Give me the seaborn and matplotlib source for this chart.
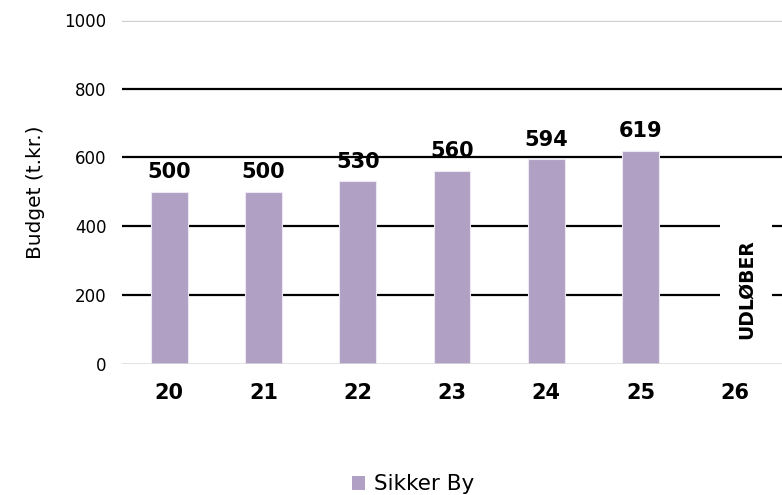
import matplotlib
matplotlib.use("Agg")
import matplotlib.pyplot as plt
import seaborn as sns
import pandas as pd
import numpy as np
from matplotlib.patches import Patch

# data
years = ["20", "21", "22", "23", "24", "25", "26"]
budget = [500, 500, 530, 560, 594, 619, np.nan]
series_name = "Sikker By"
expired_label = "UDLØBER"
y_ticks = [0, 200, 400, 600, 800, 1000]

bar_color = "#B0A1C4"

sns.set_style("white")
plt.rcParams["font.family"] = ["DejaVu Sans"]
plt.rcParams["text.color"] = "black"
plt.rcParams["axes.labelcolor"] = "black"
plt.rcParams["xtick.color"] = "black"
plt.rcParams["ytick.color"] = "black"

df = pd.DataFrame({"year": years, "budget": budget})

fig = plt.figure(figsize=(7.82, 4.95), dpi=100)
ax = fig.add_axes([0.156, 0.265, 0.844, 0.695])

sns.barplot(data=df, x="year", y="budget", order=years, color=bar_color,
            width=0.39, saturation=1, ax=ax, zorder=3)
for p in ax.patches:
    p.set_edgecolor("#EDE8F3")
    p.set_linewidth(0.8)

ax.set_ylim(0, 1000)
ax.set_xlim(-0.5, len(years) - 0.5)
ax.set_yticks(y_ticks)

# gridlines: black in between, light grey at top, axis at bottom
for v in y_ticks[1:-1]:
    ax.axhline(v, color="black", lw=1.6, zorder=1.5)
ax.axhline(y_ticks[-1], color="#D0D0D0", lw=2.2, zorder=1.5)
ax.axhline(y_ticks[-1], color="white", lw=0.6, zorder=1.6)
ax.axhline(0, color="#D9D9D9", lw=1.8, zorder=4)

for s in ax.spines.values():
    s.set_visible(False)

# value labels
for i, v in enumerate(budget):
    if not np.isnan(v):
        ax.annotate(f"{v:.0f}", (i, v), xytext=(0, 7), textcoords="offset points",
                    ha="center", va="bottom", fontsize=15, fontweight="bold",
                    color="black", zorder=1)

ax.text(6.12, 218, expired_label, rotation=90, ha="center", va="center",
        fontsize=13.5, fontweight="bold", color="black", zorder=5,
        bbox=dict(facecolor="white", edgecolor="none", pad=12))

ax.set_xlabel("")
ax.set_ylabel("Budget (t.kr.)", fontsize=14.5, labelpad=14)
ax.tick_params(axis="y", labelsize=12, length=0, pad=11)
ax.tick_params(axis="x", labelsize=15, length=0, pad=14)
for t in ax.get_xticklabels():
    t.set_fontweight("bold")

fig.legend(handles=[Patch(facecolor=bar_color, edgecolor="none", label=series_name)],
           loc="lower center", bbox_to_anchor=(0.528, -0.038), frameon=False,
           fontsize=15.5, handlelength=0.6, handleheight=0.6, handletextpad=0.4)

fig.savefig("out.png", dpi=100)
